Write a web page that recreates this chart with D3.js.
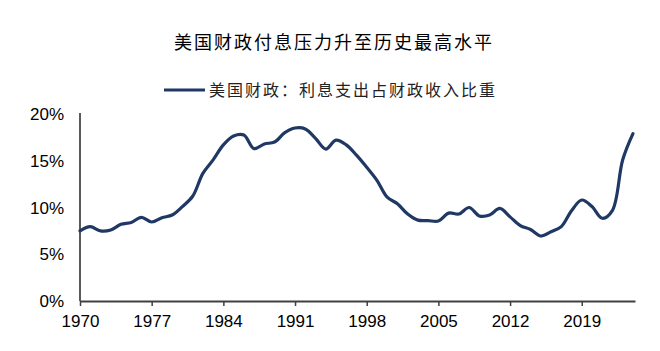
<!DOCTYPE html>
<html>
<head>
<meta charset="utf-8">
<script src="https://cdn.jsdelivr.net/npm/d3@7"></script>
<style>
  body { margin: 0; background: #fff; }
  text { font-family: "Liberation Sans", Arial, sans-serif; }
  .cjk { font-family: "Noto Sans CJK SC", sans-serif; }
</style>
</head>
<body>
<div id="chart"></div>
<script>
// chart values
var title = "美国财政付息压力升至历史最高水平";
var seriesName = "美国财政：利息支出占财政收入比重";
var years = [1970,1971,1972,1973,1974,1975,1976,1977,1978,1979,
             1980,1981,1982,1983,1984,1985,1986,1987,1988,1989,
             1990,1991,1992,1993,1994,1995,1996,1997,1998,1999,
             2000,2001,2002,2003,2004,2005,2006,2007,2008,2009,
             2010,2011,2012,2013,2014,2015,2016,2017,2018,2019,
             2020,2021,2022,2023,2024];
var ratio = [7.5,7.95,7.5,7.6,8.2,8.4,8.95,8.45,8.9,9.2,
             10.1,11.2,13.65,15.1,16.7,17.65,17.75,16.3,16.8,17.0,
             18.0,18.5,18.4,17.4,16.25,17.2,16.7,15.6,14.3,12.9,
             11.1,10.4,9.3,8.65,8.6,8.55,9.4,9.3,10.0,9.1,
             9.2,9.9,9.0,8.05,7.65,6.95,7.4,7.95,9.65,10.8,
             10.1,8.85,9.7,15.1,17.9];
var xTicks = [1970,1977,1984,1991,1998,2005,2012,2019];
var yTicks = [0,5,10,15,20];

var config = { width: 660, height: 351 };
var margin = { left: 80, right: 25, top: 114, bottom: 50 };

var width = config.width - margin.left - margin.right,
    height = config.height - margin.top - margin.bottom;

var data = years.map(function(y, i){ return { year: y, value: ratio[i] }; });

var svg = d3.select("#chart").append("svg")
    .attr("width", config.width)
    .attr("height", config.height);

var x = d3.scaleLinear()
    .domain([1970, 2024.2])
    .range([0, width]);

var y = d3.scaleLinear()
    .domain([0, 20])
    .range([height, 0]);

var chart = svg.append("g")
    .attr("transform", "translate(" + margin.left + "," + margin.top + ")");

// title
svg.append("text")
    .attr("class", "cjk")
    .attr("x", 334)
    .attr("y", 49)
    .attr("text-anchor", "middle")
    .attr("font-size", "18px")
    .attr("letter-spacing", "2px")
    .attr("fill", "#000")
    .text(title);

// legend
svg.append("line")
    .attr("x1", 164).attr("x2", 205)
    .attr("y1", 90).attr("y2", 90)
    .attr("stroke", "#1f3864")
    .attr("stroke-width", 3);

svg.append("text")
    .attr("class", "cjk")
    .attr("x", 209)
    .attr("y", 96)
    .attr("font-size", "16px")
    .attr("letter-spacing", "2px")
    .attr("fill", "#222")
    .text(seriesName);

// y axis labels + line
chart.append("g")
    .selectAll("text")
    .data(yTicks)
    .enter().append("text")
    .attr("x", -16)
    .attr("y", function(d){ return y(d); })
    .attr("dy", "0.36em")
    .attr("text-anchor", "end")
    .attr("font-size", "17px")
    .attr("fill", "#000")
    .text(function(d){ return d + "%"; });

chart.append("line")
    .attr("x1", 0).attr("x2", 0)
    .attr("y1", y(20) - 1).attr("y2", height)
    .attr("stroke", "#000")
    .attr("stroke-width", 1.3);

// x axis
var x_axis = d3.axisBottom(x)
    .tickValues(xTicks)
    .tickFormat(d3.format("d"))
    .tickSize(5)
    .tickPadding(9)
    .tickSizeOuter(0);

var gx = chart.append("g")
    .attr("transform", "translate(0," + height + ")")
    .call(x_axis);

gx.select(".domain").attr("stroke", "#404040").attr("stroke-width", 2);
gx.selectAll(".tick line").attr("stroke", "#404040").attr("stroke-width", 1.5);
gx.selectAll(".tick text")
    .attr("font-family", "Liberation Sans, Arial, sans-serif")
    .attr("font-size", "17px")
    .attr("fill", "#000");

// the series
var line = d3.line()
    .x(function(d){ return x(d.year); })
    .y(function(d){ return y(d.value); })
    .curve(d3.curveCatmullRom.alpha(0.5));

chart.append("path")
    .datum(data)
    .attr("fill", "none")
    .attr("stroke", "#1f3864")
    .attr("stroke-width", 3.2)
    .attr("stroke-linejoin", "round")
    .attr("stroke-linecap", "round")
    .attr("d", line);
</script>
</body>
</html>
